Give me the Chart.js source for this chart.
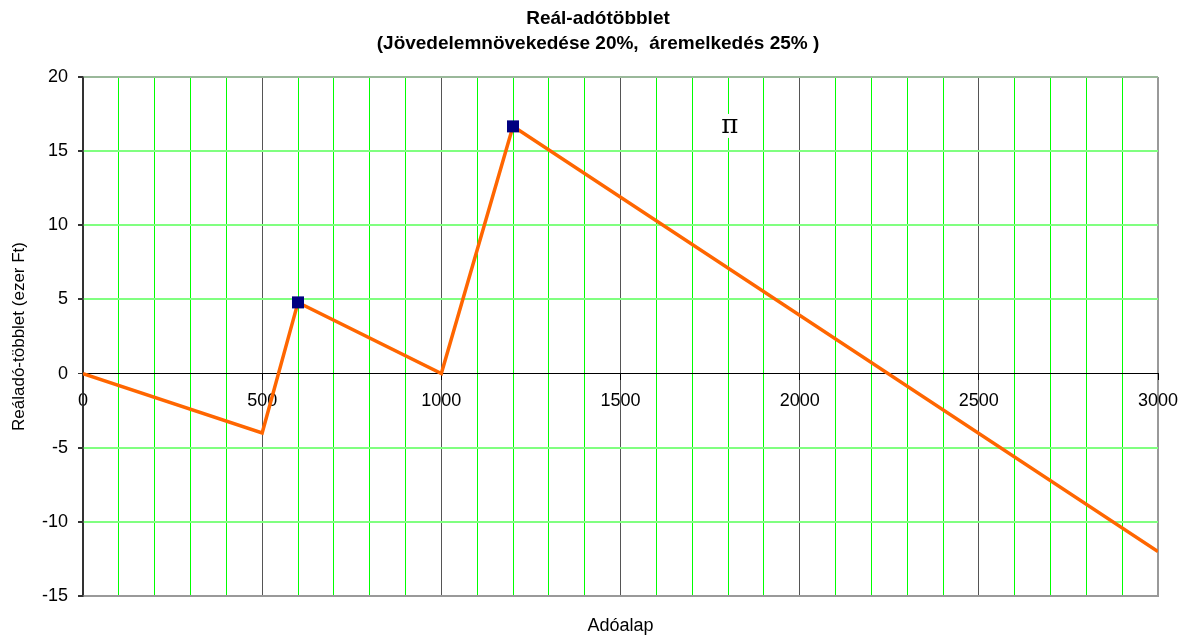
<!DOCTYPE html>
<html>
<head>
<meta charset="utf-8">
<script src="https://cdn.jsdelivr.net/npm/chart.js@4.4.1/dist/chart.umd.min.js"></script>
<style>
    body { margin: 0; background: #fff; }
    #wrap { width: 1179px; height: 637px; }
</style>
</head>
<body>
<div id="wrap"><canvas id="lineChart" width="1179" height="637"></canvas></div>
<script>
//============================================= Data =============================================//
const xValues = [0, 500, 600, 1000, 1200, 3000];
const yValues = [0, -4, 4.8, 0, 16.67, -12];
const markedX = [600, 1200];
const titleLines = ['Reál-adótöbblet', '(Jövedelemnövekedése 20%,  áremelkedés 25% )'];
const xTitle = 'Adóalap';
const yTitle = 'Reáladó-többlet (ezer Ft)';
const piNote = { text: 'π', x: 1805, y: 16.7 };

const FONT = '"Liberation Sans", Arial, sans-serif';
Chart.defaults.font.family = FONT;
Chart.defaults.color = '#000';

//============================================= π label =============================================//
const piLabel = {
    id: 'piLabel',
    beforeDatasetsDraw(chart) {
        const { ctx, scales } = chart;
        const px = scales.x.getPixelForValue(piNote.x);
        const py = scales.y.getPixelForValue(piNote.y);
        ctx.save();
        ctx.fillStyle = '#fff';
        ctx.fillRect(px - 10, py - 12, 20, 24);
        ctx.font = '26px "DejaVu Serif", "Liberation Serif", serif';
        ctx.fillStyle = '#000';
        ctx.textAlign = 'center';
        ctx.textBaseline = 'middle';
        ctx.fillText(piNote.text, px, py);
        ctx.restore();
    }
};

//============================================= Chart =============================================//
const lineConfig = {
    type: 'line',
    data: {
        datasets: [{
            data: xValues.map((x, i) => ({ x: x, y: yValues[i] })),
            borderColor: '#FF6600',
            borderWidth: 3.5,
            backgroundColor: '#000080',
            pointBackgroundColor: '#000080',
            pointBorderColor: '#000080',
            pointBorderWidth: 0,
            pointStyle: 'rect',
            pointRadius: (c) => markedX.includes(xValues[c.dataIndex]) ? 8.5 : 0,
            tension: 0,
            fill: false
        }]
    },
    options: {
        responsive: false,
        animation: false,
        layout: { padding: { left: 17, right: 0, top: 0, bottom: 0 } },
        plugins: {
            legend: { display: false },
            tooltip: { enabled: false },
            title: {
                display: true,
                text: titleLines,
                color: '#000',
                font: { size: 19, weight: 'bold', lineHeight: '25px' },
                padding: { top: 6, bottom: 21 }
            }
        },
        scales: {
            x: {
                type: 'linear',
                min: 0,
                max: 3000,
                afterFit: (s) => { s.height = 41; s.paddingLeft = 0; s.paddingRight = 0; },
                ticks: { display: false, stepSize: 100 },
                grid: {
                    drawTicks: false,
                    color: (c) => {
                        const v = c.tick.value;
                        if (v === 0) return '#333333';
                        if (v === 3000) return '#999999';
                        return v % 500 === 0 ? '#555555' : '#00ff00';
                    },
                    lineWidth: (c) => c.tick.value === 3000 ? 2 : 1
                },
                border: { color: '#999999', width: 2 },
                title: {
                    display: true,
                    text: xTitle,
                    font: { size: 18 },
                    padding: { top: 0, bottom: 0 }
                }
            },
            x2: {
                type: 'linear',
                axis: 'x',
                position: { y: 0 },
                min: 0,
                max: 3000,
                afterFit: (s) => { s.paddingLeft = 0; s.paddingRight = 0; },
                ticks: {
                    stepSize: 500,
                    autoSkip: false,
                    maxRotation: 0,
                    padding: 11,
                    font: { size: 18 },
                    callback: (v) => String(v)
                },
                grid: { drawOnChartArea: false, tickLength: 6, color: '#000000' },
                border: { color: '#000000', width: 1 }
            },
            y: {
                min: -15,
                max: 20,
                afterFit: (s) => { s.width = 66; },
                ticks: { stepSize: 5, padding: 10, font: { size: 18 } },
                grid: {
                    tickLength: 5,
                    tickColor: '#333333',
                    lineWidth: (c) => c.tick.value === 0 ? 1 : 2,
                    color: (c) => {
                        const v = c.tick.value;
                        if (v === 0) return '#000000';
                        if (v === 20) return '#9ab89a';
                        if (v === -15) return '#999999';
                        return '#80ff80';
                    }
                },
                border: { color: '#333333', width: 1.5 },
                title: {
                    display: true,
                    text: yTitle,
                    font: { size: 17 },
                    padding: { top: -8, bottom: 0 }
                }
            },
            yR: {
                type: 'linear',
                position: 'right',
                afterFit: (s) => { s.width = 21; },
                ticks: { display: false },
                grid: { display: false },
                border: { display: false }
            }
        }
    },
    plugins: [piLabel]
};

new Chart(document.getElementById('lineChart'), lineConfig);
</script>
</body>
</html>
